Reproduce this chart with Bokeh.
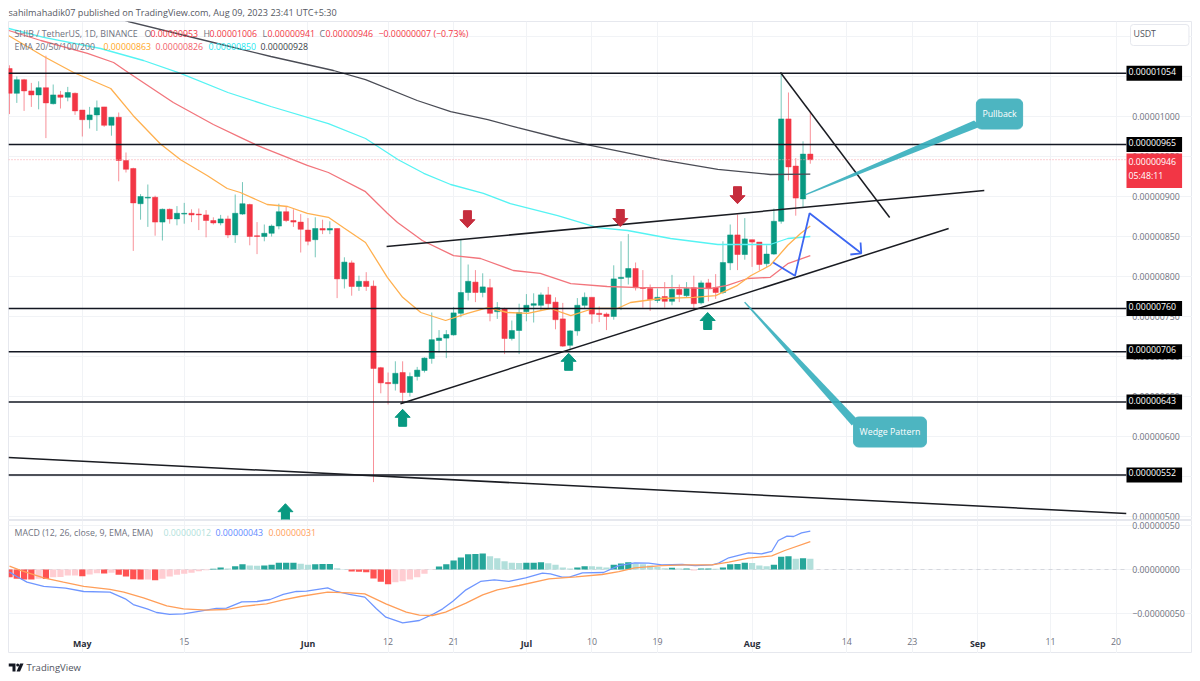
from bokeh.embed import file_html
from bokeh.layouts import column
from bokeh.models import FixedTicker, Label, LinearAxis, Range1d
from bokeh.plotting import figure
from bokeh.resources import INLINE

# Candles, Apr 21 to Aug 9 2023, prices in units of 0.00000001
opens = [1060,1029,1046,1032,1027,1036,1016,1027,1024,1029,1008,996,1002,1012,989,999,945,935,891,898,899,868,884,872,878,879,878,877,870,867,872,852,878,890,851,850,854,863,881,870,868,858,846,860,858,860,797,817,787.5,794,788,686,667.5,666,680,655,675,682.5,697.5,720,723,727,754,780,793,780,786,756,760,722.5,732.5,756,764,764,777,768,747,714,732,764,774,754,753,750,797.5,799,810,786,785,770,775,769,784,776,786,767,792,786,780,817,852,827.5,846,843,816,828,869,997,938,897,953]
highs = [1064,1050,1047,1042,1044,1076,1040,1032,1037,1030,1008,1012,1020,1012,999,1005,955,936,903,915,901,885,885,888,892,884,885,883,874,877,876,902.5,918,891,868,865,865,891,887,884,878,873,874,871,869,860,824,820,801,805.4,795,687,680,694,694,680,687,699,755,733,733,762,847,815,808,804,797,768,761,745,766,778,779,780,787,774,767,733,773,780,774,762.5,755,814,844,853,817.5,808,790,785,793,802,790,793,801,795,797,803,844,865,877.5,873,846,843,839,885,1055,1030,948,969,1006]
lows = [1003,1017,1007,1012,1009,973,1015,1010,1019,1002,975,985,982,987,976,919,930,832,871,862,851,845,866,864,866,868,858,849,865,864,848,842,877,839,828,844,850,859,868,862,830,839,824,853,853,773,785,776,782,782,543,654,640,657.5,641,650,670,680,691,705,698,726,749,770,768,774,744,747,703,720,703,744,742.5,758,760,734,712,707.5,726,760,741,743,733,746,758,790,782.5,761,757,767,761,764,768,774,758,765,769,772,778,808,808,821,812,807.5,812,827,866,920,876,887,941]
closes = [1029,1046,1032,1027,1036,1017,1027,1024,1030,1007,996,1002,1011,989,999,945,934,892,900,899,868,884,872,879,879,877,877,870,867,872,852,879,891,850,850,854,863,881,870,868,859,844,860,858,860,797,818,787.5,794,787.5,685,667,666,679,655,675,683,698,721,723,727.5,754.5,780,794,780,787,754,761,722.5,732.5,755,764,766,777,766,746,713,732,764,774,753,752.5,750,797,799,810,786,785,771,774,769,784,777.5,785,766,792,785,780,817.5,852,827.5,847,843,815,828,869,997,937,898,953,946]

ema20_i = [-0.1,4.9,8.8,13.9,17,20.7,23.5,27.2,29.9,31.7,35.4,38.2,40.9,43.8,45.9,48.9,51.9,54,56.5,59.9,62.9,65.7,68.4,71.2,74.3,77.1,80.2,83.5,85.3,89.4,94,97,100,101.8,104.5,106.9,108.7,110]
ema20_v = [1101,1074,1055,1035,1001,966,946,926,910,905,890,887.5,879,874,861,842.5,799,774,755,745,754,761,755,754,760,751,760,760,767.5,772.5,774,776,789,801,814,839,854,863]
ema50_i = [-0.1,4.3,10.7,14.3,16.3,22.5,28,31.7,34,40.9,43.8,48.9,51.9,53.3,56.7,61,64.7,69.2,72.9,77.1,82.1,86.7,91.8,96.3,98.6,101.4,104.5,106.9,110]
ema50_v = [1107.5,1095,1079,1067.5,1055,1017.5,990,974,964,939,930,906,879,867.5,845,826,822.5,807.5,804,791,787.5,786,786,785,789,797.5,799,816,826]
ema100_i = [-0.1,4.7,12.5,18.4,23.5,30,35.9,43.8,48.9,53.4,56.9,60.6,65.1,68.8,75.3,80.8,84.9,90.8,97.3,104.5,106.9,110]
ema100_v = [1110,1099,1085,1070,1054,1030,1012.5,991,972.5,946,929,915,904,891,876,861,857.5,847.5,840,840,847.5,850]
ema200_i = [12.5,16.3,28,35.9,44.5,48.9,56,60.6,65.7,69.8,75.7,79.8,89.4,97.3,104.5,110]
ema200_v = [1130,1118.75,1092.5,1075,1057.5,1046,1020,1006,996,986,972.5,964,946,934,927.5,928]

macd_hist = [-8.7,-10.6,-11.4,-11.5,-10.6,-10.7,-8.7,-8.6,-6.8,-6.7,-7.6,-5.7,-4.2,-4.5,-3.8,-6.1,-8.0,-11.0,-11.4,-11.3,-12.1,-10.6,-8.0,-6.1,-4.9,-3.8,-1.9,-0.8,0.8,2.3,1.1,3.8,6.1,4.5,4.2,4.5,5.3,7.6,7.7,7.8,6.4,5.3,6.1,6.2,6.3,1.5,0.4,-2.3,-2.7,-3.0,-10.2,-14.0,-16.7,-14.4,-13.3,-11.4,-8.7,-4.9,-0.4,3.4,6.1,10.2,13.6,17.4,17.5,18.2,15.2,12.9,9.5,7.6,7.5,7.6,7.7,8.3,7.2,5.3,2.3,1.1,2.3,3.8,3.7,3.0,2.3,5.3,6.8,8.3,6.8,6.1,4.5,2.7,1.5,1.9,1.1,1.2,-1.1,1.1,1.2,0.8,2.3,6.1,6.2,7.6,7.5,4.5,3.8,5.3,14.4,15.2,12.1,12.9,12.1]
macd_pale = [4,6,7,8,9,11,12,14,19,21,22,23,24,25,26,27,30,33,34,40,41,45,46,53,54,55,56,57,58,66,67,68,69,70,74,75,76,77,80,81,82,86,87,88,89,90,92,94,97,102,103,104,108,110]
macd_i = [0,1,2.4,4.7,7.7,10.2,13.8,15.9,17,18.9,20.2,22,23.9,26.2,28.4,29.8,31.9,34,35.8,37.6,39.4,40.8,43.7,44.9,46.7,48.8,50.4,51.7,54,56.3,58.1,59.5,60.9,62.7,64.7,66.6,68.6,70.9,73.2,74.3,75.9,76.9,78.7,81.6,83.7,85.9,87.8,89.6,92.4,94.2,96.5,97.4,98.8,101.5,103.3,104.7,105.6,106.8,107.7,108.8,110]
macd_v = [-3,-8,-14.4,-19.3,-21.2,-25,-25.8,-33.3,-39.8,-44.7,-48.9,-51.1,-50.4,-47.3,-44.3,-43.9,-36.7,-36.4,-34.1,-28.4,-25,-24.6,-20.8,-25,-28.4,-31.4,-44.7,-54.2,-60.6,-58,-51.1,-44.7,-36,-23.1,-13.6,-11.7,-13.6,-9.5,-4.2,-4.9,-8.7,-8.7,-3.8,-3.4,4.5,7.6,7.2,5.3,5.7,4.5,5.3,7.2,13.3,18.9,17.8,20.5,33,37.9,37.5,41.7,43.6]
signal_i = [0,1.5,4.7,7.4,10.2,13.8,15.7,18.4,21.6,23.9,27.1,29.8,32.1,35.3,37.6,39.9,43.7,46.7,48.8,51.7,54.5,56.3,58.1,59.9,62.7,65,67,70,74.1,77.8,81.4,83.7,85.9,89.6,92.8,96.5,98.8,101.5,104.7,106.5,110]
signal_v = [3.8,-1.1,-9.5,-14.4,-19.3,-22.7,-25.8,-32.2,-41.3,-44.7,-46.2,-45.5,-42,-39,-34.5,-30.7,-25.8,-26.5,-27.7,-39,-48.5,-51.9,-52.3,-48.5,-38.3,-28.8,-23.1,-18.2,-10.6,-8.3,-5.7,-2.3,1.9,4.5,5.3,5.3,8.3,12.9,15.5,21.6,31.8]

day_ticks = [24,52,61,80,89,115,124,143,152]
day_labels = ["15","12","21","10","19","14","23","11","20"]
month_ticks = [10,41,71,102,133]
month_labels = ["May","Jun","Jul","Aug","Sep"]
price_ticks = [500,550,600,650,700,750,800,850,900,950,1000,1050,1100]
price_tick_labels = ["0.00000500","0.00000550","0.00000600","0.00000650","0.00000700","0.00000750","0.00000800","0.00000850","0.00000900","0.00000950","0.00001000","0.00001050","0.00001100"]
macd_ticks = [-50,0,50]
macd_tick_labels = ["\u22120.00000050","0.00000000","0.00000050"]
levels = [1054,965,760,706,643,552]
level_labels = ["0.00001054","0.00000965","0.00000760","0.00000706","0.00000643","0.00000552"]
last_price = 946

trend_lines = [([-0.14,153.4],[573.75,503.75]),([51.8,133.9],[837.5,907.5]),([53.7,129],[641,860]),([105.9,120.9],[1055,873.75])]
blue_path_i = [104.9,107.9,109.9,117]
blue_path_v = [817.5,801,879,829]
blue_head_i = [115.5,117,116.9]
blue_head_v = [827.5,829,842.5]
down_i = [62.9,83.9,100]
down_v = [861,862.5,891]
up_i = [54,76.8,95.9,37.9]
up_v = [634,704,755,516]
pull_tail_i = [109.2,132.5,133.4,109.3]
pull_tail_v = [902.5,995,987.5,901.2]
wedge_tail_i = [100.9,115.7,116.5,101.05]
wedge_tail_v = [767.5,613.75,621,768.4]

GREEN = "#089981"; RED = "#f23645"; GRID = "#f1f3f6"; TXT = "#6f7280"; FONT = "Open Sans"; SIZE = "8.8px"
LEFT, RIGHT, AXIS_I = -0.14, 162.5, 153.4
XS, YS = 7.28, 0.8
OVERLAP = 6
all_time_ticks = sorted(day_ticks + month_ticks)

def strip_axis(ax):
    ax.axis_line_color = None
    ax.major_tick_line_color = None
    ax.minor_tick_line_color = None
    ax.major_tick_out = 0
    ax.major_tick_in = 0
    ax.minor_tick_out = 0
    ax.minor_tick_in = 0

def pane(h, y0, y1, ticks, labels, grid_bounds, top=0, bottom=0, **kw):
    p = figure(frame_width=1184, frame_height=h, output_backend="svg", toolbar_location=None,
               x_range=Range1d(LEFT, RIGHT), y_range=Range1d(y0, y1), y_axis_location="right",
               min_border_left=8, min_border_right=0, min_border_top=top, min_border_bottom=bottom,
               background_fill_color="white", border_fill_color=None, outline_line_color="#e6e8ee", **kw)
    p.yaxis.fixed_location = AXIS_I
    p.yaxis.ticker = FixedTicker(ticks=ticks)
    p.yaxis.major_label_overrides = dict(zip(ticks, labels))
    p.yaxis.major_label_text_font = FONT
    p.yaxis.major_label_text_font_size = SIZE
    p.yaxis.major_label_text_color = TXT
    p.yaxis.major_label_standoff = 6
    strip_axis(p.yaxis[0])
    p.xgrid.ticker = FixedTicker(ticks=all_time_ticks)
    p.ygrid.ticker = FixedTicker(ticks=ticks)
    p.xgrid.grid_line_color = GRID
    p.ygrid.grid_line_color = GRID
    p.xgrid.bounds = grid_bounds
    p.ygrid.bounds = (LEFT, AXIS_I)
    return p

def strip(h):
    p = figure(frame_width=1184, frame_height=h, output_backend="svg", toolbar_location=None,
               x_range=Range1d(8, 1192), y_range=Range1d(h, 0), x_axis_type=None, y_axis_type=None,
               min_border_left=8, min_border_right=0, min_border_top=0, min_border_bottom=0,
               outline_line_color=None)
    p.grid.visible = False
    return p

def text(fig, bottom, X, Y, s, color=TXT, size=SIZE, style="normal", align="left", **kw):
    fig.add_layout(Label(x=X - 8, y=bottom - Y, x_units="screen", y_units="screen", text=s, text_color=color,
                         text_font=FONT, text_font_size=size, text_font_style=style, text_align=align,
                         text_baseline="middle", **kw))

# Header
header = strip(21)
text(header, 21, 8, 12, "sahilmahadik07 published on TradingView.com, Aug 09, 2023 23:41 UTC+5:30", "#555862", "9.15px")

# Price pane
main = pane(498, 496.25, 1118.75, price_ticks, price_tick_labels, "auto", bottom=OVERLAP)
main.xaxis.visible = False
BOTTOM = 519

idx = list(range(len(opens)))
cols = [GREEN if c >= o else RED for o, c in zip(opens, closes)]
main.segment(idx, highs, idx, lows, line_color=cols, line_width=1, line_alpha=0.55)
main.vbar(idx, 0.72, [min(o, c) for o, c in zip(opens, closes)], [max(o, c) for o, c in zip(opens, closes)],
          fill_color=cols, line_color=cols, line_width=0.5)

for xs, ys, col in [(ema200_i, ema200_v, "#4a4c55"), (ema100_i, ema100_v, "#55f3f3"),
                    (ema50_i, ema50_v, "#f2757c"), (ema20_i, ema20_v, "#ffb04f")]:
    main.line(xs, ys, line_color=col, line_width=1.3)

main.line([LEFT, AXIS_I], [last_price, last_price], line_color="#f7a2a8", line_width=1, line_dash=[1, 2])
for lv in levels:
    main.line([LEFT, AXIS_I], [lv, lv], line_color="#131722", line_width=1.5)
for xs, ys in trend_lines:
    main.line(xs, ys, line_color="#1a1c22", line_width=1.5)
main.line(blue_path_i, blue_path_v, line_color="#3d67f2", line_width=1.8)
main.line(blue_head_i, blue_head_v, line_color="#3d67f2", line_width=1.8)

def arrow(tip_i, tip_v, sign):
    w, s, hh, tot = 7.5 / XS, 4 / XS, 8 / YS * sign, 17 / YS * sign
    return ([tip_i, tip_i + w, tip_i + s, tip_i + s, tip_i - s, tip_i - s, tip_i - w],
            [tip_v, tip_v + hh, tip_v + hh, tip_v + tot, tip_v + tot, tip_v + hh, tip_v + hh])

for i, v in zip(down_i, down_v):
    xs, ys = arrow(i, v, 1)
    main.patch(xs, ys, fill_color="#c62d3d", line_color="#c62d3d")
for i, v in zip(up_i, up_v):
    xs, ys = arrow(i, v, -1)
    main.patch(xs, ys, fill_color=GREEN, line_color=GREEN)

main.patch(pull_tail_i, pull_tail_v, fill_color="#35aebd", line_color=None, fill_alpha=0.9)
main.patch(wedge_tail_i, wedge_tail_v, fill_color="#35aebd", line_color=None, fill_alpha=0.9)

def callout(X, Y, s):
    main.add_layout(Label(x=X - 8, y=BOTTOM - Y, x_units="screen", y_units="screen", text=s,
                          text_color="white", text_font=FONT, text_font_size=SIZE, text_align="center",
                          text_baseline="middle", background_fill_color="#4db5c1", padding=[6, 9], border_radius=5,
                          border_line_color="#4db5c1"))
callout(999, 113.5, "Pullback")
callout(889.5, 431.5, "Wedge Pattern")

for lv, lab in zip(levels, level_labels):
    main.add_layout(Label(x=1118, y=lv, x_units="screen", y_units="data", text=lab, text_color="white",
                          text_font=FONT, text_font_size=SIZE, text_baseline="middle",
                          background_fill_color="black", padding=[2, 6, 2, 6]))
main.add_layout(Label(x=1118, y=BOTTOM - 153, x_units="screen", y_units="screen",
                      text="0.00000946\n05:48:11", text_color="white", text_font=FONT, text_font_size=SIZE,
                      text_baseline="top", background_fill_color=RED, padding=[2, 6, 2, 6]))
main.add_layout(Label(x=1122, y=BOTTOM - 24, x_units="screen", y_units="screen", text="USDT",
                      text_color="#50535e", text_font=FONT, text_font_size=SIZE, text_baseline="top",
                      background_fill_color="white", border_line_color="#e6e8ee", padding=[3, 33, 3, 6], border_radius=3))

text(main, BOTTOM, 14, 33, "SHIB / TetherUS, 1D, BINANCE")
text(main, BOTTOM, 144, 33, "O")
text(main, BOTTOM, 150, 33, "0.00000953", RED)
text(main, BOTTOM, 203, 33, "H")
text(main, BOTTOM, 209, 33, "0.00001006", RED)
text(main, BOTTOM, 262, 33, "L")
text(main, BOTTOM, 267, 33, "0.00000941", RED)
text(main, BOTTOM, 319, 33, "C")
text(main, BOTTOM, 325, 33, "0.00000946", RED)
text(main, BOTTOM, 378, 33, "\u22120.00000007 (\u22120.73%)", RED)
text(main, BOTTOM, 14, 46, "EMA 20/50/100/200")
text(main, BOTTOM, 103, 46, "0.00000863", "#ffa726")
text(main, BOTTOM, 155, 46, "0.00000826", "#f2606a")
text(main, BOTTOM, 208, 46, "0.00000850", "#1fe8f0")
text(main, BOTTOM, 260, 46, "0.00000928", "#3c3f48")

# MACD pane
AXIS_V = -71.6
macd = pane(133, -95.5, 55.7, macd_ticks, macd_tick_labels, (AXIS_V, 55.7), top=1 + OVERLAP,
            margin=(-OVERLAP * 2, 0, 0, 0))
macd.xaxis.visible = False
BOTTOM_M = 653

def date_axis(ticks, labels, color, style):
    ax = LinearAxis(ticker=FixedTicker(ticks=ticks), major_label_overrides=dict(zip(ticks, labels)),
                    major_label_text_font=FONT, major_label_text_font_size=SIZE, major_label_text_color=color,
                    major_label_text_font_style=style, major_label_standoff=6, fixed_location=AXIS_V)
    strip_axis(ax)
    macd.add_layout(ax, "below")

date_axis(day_ticks, day_labels, TXT, "normal")
date_axis(month_ticks, month_labels, "#2a2e39", "bold")

def bar_color(i, v):
    if v >= 0:
        return "#b2dfdb" if i in macd_pale else "#26a69a"
    return "#ffcdd2" if i in macd_pale else "#ff5252"

macd.line([LEFT, AXIS_I], [0, 0], line_color="#d5d7dd", line_width=1, line_dash=[4, 4])
macd.vbar(idx, 0.86, 0, macd_hist, fill_color=[bar_color(i, v) for i, v in enumerate(macd_hist)], line_color=None)
macd.line(macd_i, macd_v, line_color="#6f96ff", line_width=1.3)
macd.line(signal_i, signal_v, line_color="#ff9e59", line_width=1.3)

text(macd, BOTTOM_M, 14, 532, "MACD (12, 26, close, 9, EMA, EMA)")
text(macd, BOTTOM_M, 163, 532, "0.00000012", "#b2dfdb")
text(macd, BOTTOM_M, 215, 532, "0.00000043", "#5f8bff")
text(macd, BOTTOM_M, 268, 532, "0.00000031", "#ff9e59")

# Footer with the TradingView mark
footer = strip(24)
LOGO = "#131722"
footer.patch([8, 15, 15, 12, 12, 8], [10, 10, 18, 18, 13, 13], fill_color=LOGO, line_color=None)
footer.circle([17.2], [11.5], radius=1.5, fill_color=LOGO, line_color=None)
footer.patch([19.5, 23, 19.5, 16], [10, 10, 18, 18], fill_color=LOGO, line_color=None)
text(footer, 24, 26, 14, "TradingView", "#50535e", "9.5px")

page = column(header, main, macd, footer, spacing=0)
open("out.html", "w").write(file_html(page, INLINE))
